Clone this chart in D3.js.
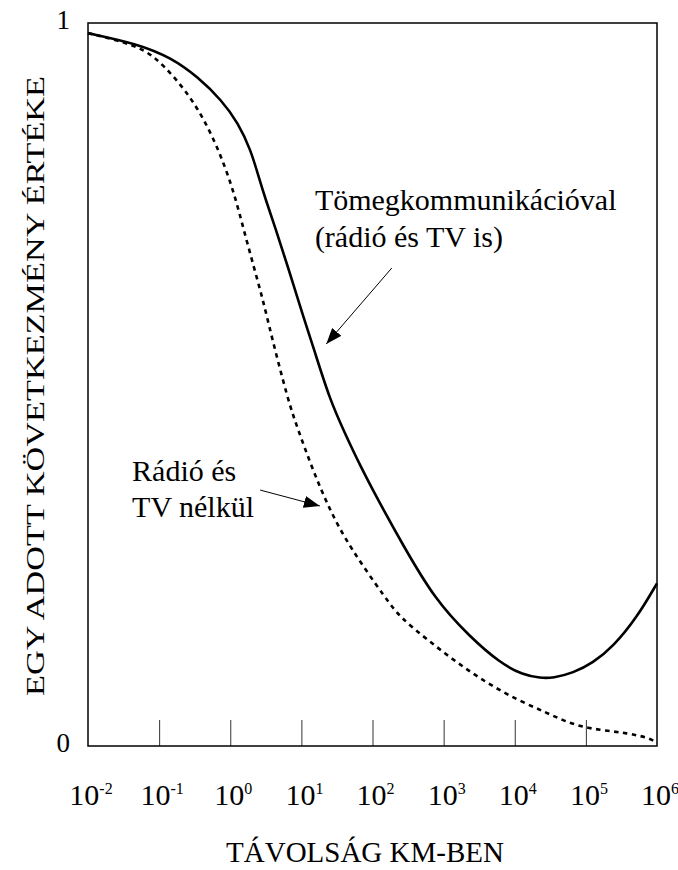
<!DOCTYPE html>
<html>
<head>
<meta charset="utf-8">
<script src="https://cdnjs.cloudflare.com/ajax/libs/d3/7.8.5/d3.min.js"></script>
<style>
  body { margin: 0; background: #fff; }
</style>
</head>
<body>
<div id="chart"></div>
<script>
// x values are log10 of the distance in km
var tickExponents = [-2, -1, 0, 1, 2, 3, 4, 5, 6];
var yTickLabels = [0, 1];

// with mass communication (radio and TV too) - solid
var massLogKm = [-2.00, -1.30, -0.83, -0.45, -0.12, 0.11, 0.29, 0.40, 0.50, 0.63, 0.81, 1.01, 1.18, 1.40, 1.61, 1.82, 2.08, 2.41, 2.88, 3.37, 3.79, 4.12, 4.36, 4.54, 4.82, 5.10, 5.38, 5.72, 6.00];
var massValue = [0.986, 0.971, 0.952, 0.925, 0.893, 0.862, 0.824, 0.787, 0.755, 0.718, 0.663, 0.599, 0.548, 0.479, 0.433, 0.389, 0.340, 0.281, 0.202, 0.151, 0.115, 0.098, 0.094, 0.094, 0.101, 0.115, 0.137, 0.178, 0.225];

// without radio and TV - dotted
var noRadioLogKm = [-2.00, -1.34, -1.06, -0.78, -0.50, -0.27, -0.07, 0.07, 0.19, 0.33, 0.46, 0.57, 0.81, 0.94, 1.16, 1.40, 1.68, 2.20, 2.39, 2.77, 3.19, 3.61, 4.03, 4.45, 4.82, 5.20, 5.58, 5.90, 6.00];
var noRadioValue = [0.986, 0.970, 0.953, 0.925, 0.889, 0.848, 0.801, 0.759, 0.714, 0.663, 0.617, 0.571, 0.479, 0.441, 0.382, 0.326, 0.275, 0.202, 0.178, 0.147, 0.115, 0.087, 0.064, 0.046, 0.029, 0.022, 0.018, 0.011, 0.004];

var labelLines = [["Tömegkommunikációval", "(rádió és TV is)"], ["Rádió és", "TV nélkül"]];
var labelAt = [[1.19, 0.741], [-1.38, 0.367]];
var arrowFrom = [[2.27, 0.661], [0.42, 0.354]];
var arrowTo = [[1.35, 0.556], [1.26, 0.332]];

var width = 678, height = 870;
var margin = {top: 23, right: 21, bottom: 124, left: 88};
var serif = "'Liberation Serif', 'DejaVu Serif', serif";

var x = d3.scaleLinear().domain([-2, 6]).range([margin.left, width - margin.right]);
var y = d3.scaleLinear().domain([0, 1]).range([height - margin.bottom, margin.top]);

var svg = d3.select("#chart").append("svg")
    .attr("width", width)
    .attr("height", height)
    .attr("font-family", serif);

svg.append("defs").append("marker")
    .attr("id", "arrow")
    .attr("markerUnits", "userSpaceOnUse")
    .attr("viewBox", "0 0 16 12")
    .attr("markerWidth", 16)
    .attr("markerHeight", 12)
    .attr("refX", 16)
    .attr("refY", 6)
    .attr("orient", "auto")
  .append("path")
    .attr("d", "M0,0 L16,6 L0,12 Z")
    .attr("fill", "#000");

// inner ticks (pointing up from the bottom axis)
var xAxis = d3.axisBottom(x)
    .tickValues(tickExponents.slice(1, -1))
    .tickSizeInner(-26)
    .tickSizeOuter(0)
    .tickFormat("");

var gx = svg.append("g")
    .attr("transform", "translate(0," + y(0) + ")")
    .call(xAxis);
gx.select(".domain").remove();
gx.selectAll(".tick line").attr("stroke", "#333").attr("stroke-width", 1);

// frame
svg.append("rect")
    .attr("x", x(-2))
    .attr("y", y(1))
    .attr("width", x(6) - x(-2))
    .attr("height", y(0) - y(1))
    .attr("fill", "none")
    .attr("stroke", "#000")
    .attr("stroke-width", 1.5);

// x tick labels 10^n
var xl = svg.append("g").selectAll("text")
    .data(tickExponents)
  .enter().append("text")
    .attr("x", function(d) { return x(d) + 3; })
    .attr("y", y(0) + 59)
    .attr("text-anchor", "middle")
    .attr("font-family", serif)
    .attr("font-size", 30);
xl.append("tspan").text("10");
xl.append("tspan")
    .attr("dy", -11)
    .attr("font-size", 16)
    .text(function(d) { return d; });

// y tick labels
svg.append("g").selectAll("text")
    .data(yTickLabels)
  .enter().append("text")
    .attr("x", 70)
    .attr("y", function(d) { return y(d) + 6; })
    .attr("text-anchor", "end")
    .attr("font-family", serif)
    .attr("font-size", 27)
    .text(function(d) { return d; });

// axis titles
svg.append("text")
    .attr("x", 365)
    .attr("y", 862)
    .attr("text-anchor", "middle")
    .attr("font-family", serif)
    .attr("font-size", 29)
    .text("TÁVOLSÁG KM-BEN");

svg.append("text")
    .attr("transform", "translate(44,386) rotate(-90)")
    .attr("text-anchor", "middle")
    .attr("textLength", 620)
    .attr("lengthAdjust", "spacingAndGlyphs")
    .attr("font-family", serif)
    .attr("font-size", 25)
    .text("EGY ADOTT KÖVETKEZMÉNY ÉRTÉKE");

// curves
var line = d3.line()
    .x(function(d) { return x(d[0]); })
    .y(function(d) { return y(d[1]); })
    .curve(d3.curveBasis);

svg.append("path")
    .datum(d3.zip(noRadioLogKm, noRadioValue))
    .attr("fill", "none")
    .attr("stroke", "#000")
    .attr("stroke-width", 2.6)
    .attr("stroke-dasharray", "4.5,4.5")
    .attr("d", line);

svg.append("path")
    .datum(d3.zip(massLogKm, massValue))
    .attr("fill", "none")
    .attr("stroke", "#000")
    .attr("stroke-width", 2.6)
    .attr("d", line);

// annotations
labelLines.forEach(function(lines, i) {
    var t = svg.append("text")
        .attr("x", x(labelAt[i][0]))
        .attr("y", y(labelAt[i][1]))
        .attr("font-family", serif)
        .attr("font-size", 30);
    lines.forEach(function(s, j) {
        t.append("tspan")
            .attr("x", x(labelAt[i][0]))
            .attr("dy", j === 0 ? 0 : 36.5)
            .text(s);
    });
    svg.append("line")
        .attr("x1", x(arrowFrom[i][0]))
        .attr("y1", y(arrowFrom[i][1]))
        .attr("x2", x(arrowTo[i][0]))
        .attr("y2", y(arrowTo[i][1]))
        .attr("stroke", "#000")
        .attr("stroke-width", 1)
        .attr("marker-end", "url(#arrow)");
});
</script>
</body>
</html>
